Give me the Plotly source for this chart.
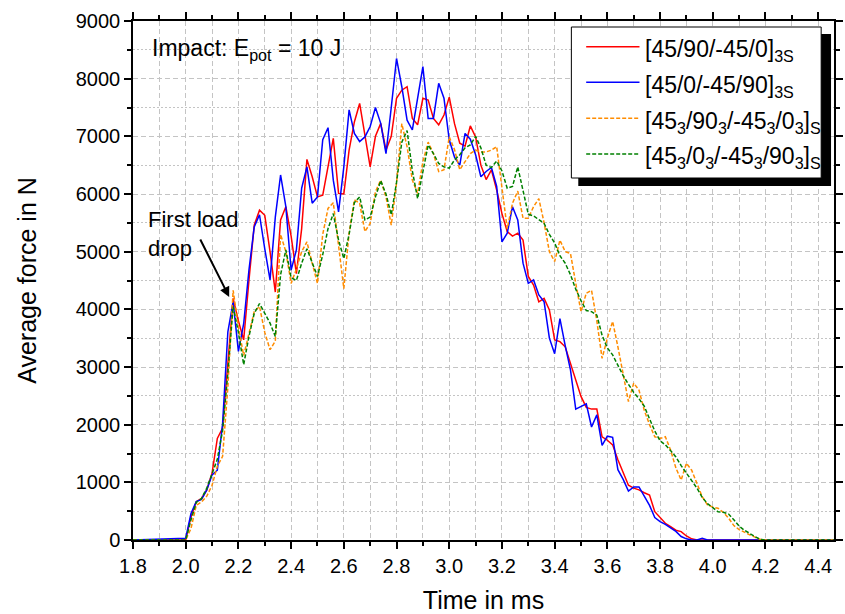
import plotly.graph_objects as go

# ---- data ----
time_ms = [1.80,
           2.00, 2.02, 2.04, 2.06, 2.08, 2.10, 2.12, 2.14, 2.16, 2.18,
           2.20, 2.22, 2.24, 2.26, 2.28, 2.30, 2.32, 2.34, 2.36, 2.38,
           2.40, 2.42, 2.44, 2.46, 2.48, 2.50, 2.52, 2.54, 2.56, 2.58,
           2.60, 2.62, 2.64, 2.66, 2.68, 2.70, 2.72, 2.74, 2.76, 2.78,
           2.80, 2.82, 2.84, 2.86, 2.88, 2.90, 2.92, 2.94, 2.96, 2.98,
           3.00, 3.02, 3.04, 3.06, 3.08, 3.10, 3.12, 3.14, 3.16, 3.18,
           3.20, 3.22, 3.24, 3.26, 3.28, 3.30, 3.32, 3.34, 3.36, 3.38,
           3.40, 3.42, 3.44, 3.46, 3.48, 3.50, 3.52, 3.54, 3.56, 3.58,
           3.60, 3.62, 3.64, 3.66, 3.68, 3.70, 3.72, 3.74, 3.76, 3.78,
           3.80, 3.82, 3.84, 3.86, 3.88, 3.90, 3.92, 3.94, 3.96, 3.98,
           4.00, 4.02, 4.04, 4.06, 4.08, 4.10, 4.12, 4.14, 4.16, 4.18,
           4.20,
           4.46]

force_45_90_m45_0_3S = [0,
    0, 400, 665, 720, 870, 1160, 1760, 1940, 3000, 4190,
    3800, 3470, 4500, 5460, 5720, 5630, 5000, 4300, 5550, 5780,
    5270, 4620, 5400, 6600, 6300, 5950, 5980, 6500, 6965, 6010,
    6000, 6760, 7250, 7570, 7000, 6470, 7000, 7225, 6760, 7000,
    7660, 7800, 7860, 7310, 7200, 7660, 7630, 7310, 7200, 7370,
    7680, 7220, 6880, 6830, 7180, 6990, 6500, 6250, 6420, 6070,
    5660, 5350, 5270, 5320, 5200, 4570, 4420, 4130, 4190, 3990,
    3470, 3440, 3350, 3060, 2770, 2490, 2300, 2270, 2270, 1790,
    1730, 1650, 1390, 1160, 950, 900, 870, 820, 780, 490,
    380, 290, 230, 170, 145, 70, 20, 0, 0, 0,
    0, 0, 0, 0, 0, 0, 0, 0, 0, 0,
    0,
    0]

force_45_0_m45_90_3S = [0,
    30, 460, 665, 705, 870, 1130, 1210, 2020, 3610, 4130,
    3270, 3750, 4680, 5430, 5640, 5050, 4510, 5600, 6330, 5780,
    4680, 5030, 6100, 6470, 5840, 5950, 6940, 7150, 6240, 5690,
    6470, 7460, 7050, 6910, 6990, 7170, 7500, 7225, 6700, 7500,
    8350, 7860, 7280, 7110, 7630, 8210, 7310, 7310, 7920, 7660,
    6940, 6640, 6500, 7050, 6950, 6680, 6300, 6390, 6460, 6130,
    5170, 5320, 5780, 5550, 4800, 4450, 4510, 4250, 4130, 3500,
    3230, 3840, 3370, 2950, 2270, 2310, 2360, 1960, 2170, 1640,
    1800, 1780, 1220, 1050, 850, 920, 920, 760, 600, 390,
    320, 270, 210, 150, 60, 20, 0, 0, 30, 0,
    0, 0, 0, 0, 0, 0, 0, 0, 0, 0,
    0,
    0]

force_453_903_m453_03_S = [0,
    0, 200, 600, 660, 760, 950, 1280, 1450, 2650, 4330,
    3700, 3200, 3560, 3960, 4050, 3600, 3300, 3450, 5300, 5000,
    4450, 4700, 5000, 5170, 4800, 4450, 5300, 5750, 5850, 5140,
    4360, 5320, 5900, 5840, 5350, 5490, 6040, 6240, 5950, 5460,
    6190, 7220, 6820, 6240, 6010, 6560, 6900, 6700, 6390, 6420,
    6990, 6770, 6420, 6560, 6700, 6760, 6730, 6730, 6760, 6820,
    6130, 5400, 5840, 6050, 5580, 5580, 5780, 5920, 5500, 5000,
    4830, 5200, 5000, 4970, 4450, 3960, 4280, 4330, 3800, 3150,
    3500, 3790, 3350, 2890, 2400, 2720, 2600, 2250, 2000, 1790,
    1760, 1790, 1560, 1250, 1040, 1330, 1210, 980, 750, 610,
    570, 550, 480, 380, 250, 180, 130, 90, 50, 10,
    0,
    0]

force_453_03_m453_903_S = [0,
    0, 350, 650, 720, 900, 1150, 1400, 1900, 2900, 4050,
    3600, 3040, 3530, 3930, 4100, 3930, 3760, 3530, 4600, 5030,
    4550, 4500, 4800, 5050, 4800, 4570, 4950, 5400, 5660, 5200,
    4880, 5300, 5850, 5950, 5550, 5600, 5950, 6230, 6000, 5640,
    6200, 6900, 7100, 6400, 5920, 6400, 6850, 6700, 6530, 6470,
    6450, 6590, 6680, 6800, 6850, 7000, 6800, 6500, 6460, 6570,
    6400, 6100, 6130, 6470, 6050, 5650, 5620, 5560, 5490, 5300,
    5150, 4930, 4800, 4600, 4350, 4150, 3980, 3960, 3900, 3550,
    3330, 3210, 3030, 2850, 2700, 2560, 2450, 2320, 2100, 1890,
    1720, 1650, 1550, 1440, 1290, 1160, 1040, 900, 740, 630,
    560, 490, 480, 450, 350, 240, 170, 110, 60, 10,
    0,
    0]

series_names = ["[45/90/-45/0]<sub>3S</sub>",
                "[45/0/-45/90]<sub>3S</sub>",
                "[45<sub>3</sub>/90<sub>3</sub>/-45<sub>3</sub>/0<sub>3</sub>]<sub>S</sub>",
                "[45<sub>3</sub>/0<sub>3</sub>/-45<sub>3</sub>/90<sub>3</sub>]<sub>S</sub>"]
series_values = [force_45_90_m45_0_3S, force_45_0_m45_90_3S,
                 force_453_903_m453_03_S, force_453_03_m453_903_S]
series_colors = ["#ff0000", "#0000ff", "#ff8c00", "#008000"]
series_dash = ["solid", "solid", "4px,2px", "4px,2px"]

x_range = [1.8, 4.46]
y_range = [0, 9000]

# ---- figure ----
fig = go.Figure()
for name, vals, col, dash in zip(series_names, series_values, series_colors, series_dash):
    fig.add_trace(go.Scatter(x=time_ms, y=vals, mode="lines", name=name,
                             line=dict(color=col, width=1.5, dash=dash)))

FONT = "Liberation Sans, Arial, sans-serif"
grid_col = "#c4c4c4"
DASHED = "5px,3px"
DOTTED = "2px,2px"

L, R, T, B = 133, 2, 21, 74
W, H = 845, 614

fig.update_layout(
    width=W, height=H,
    margin=dict(l=L, r=R, t=T, b=B),
    plot_bgcolor="white", paper_bgcolor="white",
    font=dict(family=FONT, color="black", size=20),
    showlegend=False,
)

fig.update_xaxes(
    range=x_range, tick0=1.8, dtick=0.2, tickformat=".1f",
    ticks="outside", ticklen=7, tickwidth=1.5, tickcolor="black",
    showline=True, linewidth=1.5, linecolor="black", mirror="allticks",
    showgrid=True, gridcolor=grid_col, gridwidth=1, griddash=DASHED,
    zeroline=False,
    tickfont=dict(size=20),
    minor=dict(dtick=0.1, ticks="outside", ticklen=4, tickwidth=1.5, tickcolor="black",
               showgrid=True, gridcolor=grid_col, gridwidth=1, griddash=DASHED),
    title=dict(text="Time in ms", font=dict(size=25), standoff=16),
)
fig.update_yaxes(
    range=y_range, tick0=0, dtick=1000,
    ticks="outside", ticklen=7, tickwidth=1.5, tickcolor="black",
    showline=True, linewidth=1.5, linecolor="black", mirror="allticks",
    showgrid=True, gridcolor=grid_col, gridwidth=1, griddash=DASHED,
    zeroline=False,
    tickfont=dict(size=20),
    minor=dict(dtick=500, ticks="outside", ticklen=4, tickwidth=1.5, tickcolor="black",
               showgrid=True, gridcolor=grid_col, gridwidth=1, griddash=DOTTED),
    title=dict(text="Average force in N", font=dict(size=25), standoff=32),
)

pw = W - L - R
ph = H - T - B
def px2paper(px, py):
    return (px - L) / pw, (H - B - py) / ph

# ---- legend box (drawn by hand to match the framed, shadowed key) ----
sx0, sy0 = px2paper(584, 186)
sx1, sy1 = px2paper(840, 34)
fig.add_shape(type="rect", xref="paper", yref="paper", x0=sx0, x1=sx1, y0=sy0, y1=sy1,
              fillcolor="black", line=dict(width=0), layer="above")
bx0, by0 = px2paper(577, 178)
bx1, by1 = px2paper(830, 27)
fig.add_shape(type="rect", xref="paper", yref="paper", x0=bx0, x1=bx1, y0=by0, y1=by1,
              fillcolor="white", line=dict(color="black", width=1), layer="above")
row_y = [46.7, 82.3, 118.3, 154.0]
for name, col, dash, ry in zip(series_names, series_colors, series_dash, row_y):
    lx0, ly = px2paper(592, ry)
    lx1, _ = px2paper(646, ry)
    fig.add_shape(type="line", xref="paper", yref="paper", x0=lx0, x1=lx1, y0=ly, y1=ly,
                  line=dict(color=col, width=1.5, dash=dash), layer="above")
    tx, ty = px2paper(650, ry + 4)
    fig.add_annotation(xref="paper", yref="paper", x=tx, y=ty, xanchor="left", yanchor="middle",
                       text=name, showarrow=False, font=dict(size=23, family=FONT))

ix, iy = px2paper(150, 50)
fig.add_annotation(xref="paper", yref="paper", x=ix, y=iy, xanchor="left", yanchor="middle",
                   text="Impact: E<sub>pot</sub> = 10 J", showarrow=False,
                   font=dict(size=23, family=FONT))
fx, fy = px2paper(146, 205)
fig.add_annotation(xref="paper", yref="paper", x=fx, y=fy, xanchor="left", yanchor="top",
                   align="left", text="First load<br>drop", showarrow=False,
                   font=dict(size=22, family=FONT))
fig.add_annotation(x=2.165, y=4214, ax=2.0525, ay=5237, xref="x", yref="y",
                   axref="x", ayref="y", text="", showarrow=True,
                   arrowhead=2, arrowsize=1, arrowwidth=2, arrowcolor="black")

fig.write_html("out.html", config={"displayModeBar": False},
               post_script="document.body.style.margin='0';document.body.style.overflow='hidden';")
